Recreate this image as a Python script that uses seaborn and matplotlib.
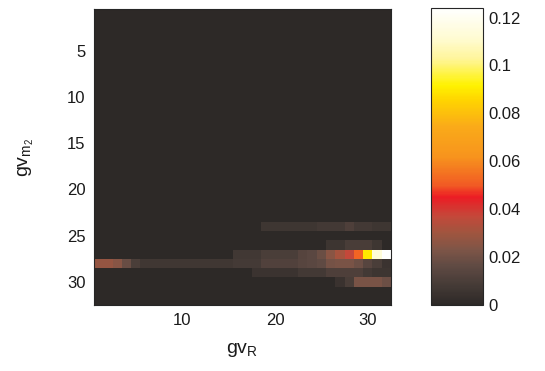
import numpy as np
import pandas as pd
import seaborn as sns
import matplotlib
matplotlib.use("Agg")
import matplotlib.pyplot as plt
from matplotlib.colors import LinearSegmentedColormap

# Joint distribution over (gv_m2, gv_R) bins; all rows not listed are zero.
n_bins = 32
row24 = [0, 0, 0, 0, 0, 0, 0, 0, 0, 0, 0, 0, 0, 0, 0, 0, 0, 0,
         0.006, 0.006, 0.006, 0.006, 0.006, 0.006, 0.0075, 0.0075, 0.0075,
         0.011, 0.0075, 0.0075, 0.006, 0.006]
row26 = [0, 0, 0, 0, 0, 0, 0, 0, 0, 0, 0, 0, 0, 0, 0, 0, 0, 0, 0, 0, 0, 0, 0, 0, 0,
         0.0055, 0.0055, 0.0095, 0.0095, 0.0095, 0.006, 0]
row27 = [0, 0, 0, 0, 0, 0, 0, 0, 0, 0, 0, 0, 0, 0, 0,
         0.0068, 0.0068, 0.0068, 0.0099, 0.0099, 0.0099, 0.0099,
         0.0135, 0.015, 0.0185, 0.0255, 0.031, 0.037, 0.052, 0.09, 0.113, 0.124]
row28 = [0.028, 0.028, 0.025, 0.018, 0.010,
         0.0065, 0.0065, 0.0065, 0.0065, 0.0065, 0.0065, 0.0065, 0.0065, 0.0065, 0.0065,
         0.008, 0.008, 0.008, 0.012, 0.012, 0.012, 0.012,
         0.014, 0.015, 0.016, 0.021, 0.022, 0.022, 0.019, 0.014, 0.010, 0.005]
row29 = [0, 0, 0, 0, 0, 0, 0, 0, 0, 0, 0, 0, 0, 0, 0, 0, 0,
         0.005, 0.005, 0.005, 0.005, 0.005, 0.0075, 0.0075, 0.0075,
         0.011, 0.011, 0.011, 0.011, 0.0075, 0.0055, 0.0055]
row30 = [0, 0, 0, 0, 0, 0, 0, 0, 0, 0, 0, 0, 0, 0, 0, 0, 0, 0, 0, 0, 0, 0, 0, 0, 0, 0,
         0.0045, 0.0095, 0.022, 0.022, 0.022, 0.019]

rows = {24: row24, 26: row26, 27: row27, 28: row28, 29: row29, 30: row30}

x_ticks = [10, 20, 30]
y_ticks = [5, 10, 15, 20, 25, 30]
cbar_ticks = [0, 0.02, 0.04, 0.06, 0.08, 0.1, 0.12]
cbar_labels = ["0", "0.02", "0.04", "0.06", "0.08", "0.1", "0.12"]
vmax = 0.124

grid = np.zeros((n_bins, n_bins))
for r, vals in rows.items():
    grid[r - 1, :] = vals
df = pd.DataFrame(grid, index=range(1, n_bins + 1), columns=range(1, n_bins + 1))

# dark-to-white "heat" palette
cmap = LinearSegmentedColormap.from_list("heat", [
    (0.000, "#2d2927"),
    (0.060, "#433935"),
    (0.129, "#5f4a43"),
    (0.185, "#7e5547"),
    (0.242, "#a0553f"),
    (0.298, "#c4483a"),
    (0.363, "#ec1c24"),
    (0.403, "#f15a24"),
    (0.500, "#f7941d"),
    (0.600, "#faaa19"),
    (0.690, "#ffd400"),
    (0.740, "#fff200"),
    (0.830, "#fff59a"),
    (0.895, "#fffbd0"),
    (1.000, "#ffffff"),
])

sns.set_style("white")
plt.rcParams["font.family"] = ["Liberation Sans", "DejaVu Sans"]
plt.rcParams["mathtext.default"] = "regular"
plt.rcParams["font.size"] = 12

fig = plt.figure(figsize=(5.45, 3.71), dpi=100)
ax = fig.add_axes([0.1725, 0.1779, 0.5449, 0.7978])
cax = fig.add_axes([0.7908, 0.1779, 0.0954, 0.8005])

sns.heatmap(df, ax=ax, cmap=cmap, vmin=0, vmax=vmax, cbar_ax=cax,
            xticklabels=False, yticklabels=False)

edge = "#262626"
ax.set_xticks([t - 0.5 for t in x_ticks])
ax.set_xticklabels([str(t) for t in x_ticks])
ax.set_yticks([t - 0.5 for t in y_ticks])
ax.set_yticklabels([str(t) for t in y_ticks])
ax.tick_params(direction="in", length=3, width=0.6, color=edge,
               top=True, right=True, bottom=True, left=True,
               labelsize=12, labelcolor="#1a1a1a", pad=6)
for s in ax.spines.values():
    s.set_visible(True)
    s.set_linewidth(0.8)
    s.set_color(edge)
ax.set_xlabel("gv$_R$", fontsize=14, color="#1a1a1a", labelpad=9)
ax.set_ylabel("gv$_{m_2}$", fontsize=14, color="#1a1a1a", labelpad=22)

cbar = ax.collections[0].colorbar
cbar.set_ticks(cbar_ticks)
cbar.set_ticklabels(cbar_labels)
cbar.outline.set_visible(True)
cbar.outline.set_linewidth(0.8)
cbar.outline.set_edgecolor(edge)
cax.tick_params(direction="in", length=4, width=0.6, color=edge,
                left=True, right=True, labelsize=12, labelcolor="#1a1a1a", pad=4)

fig.savefig("out.png", dpi=100)
